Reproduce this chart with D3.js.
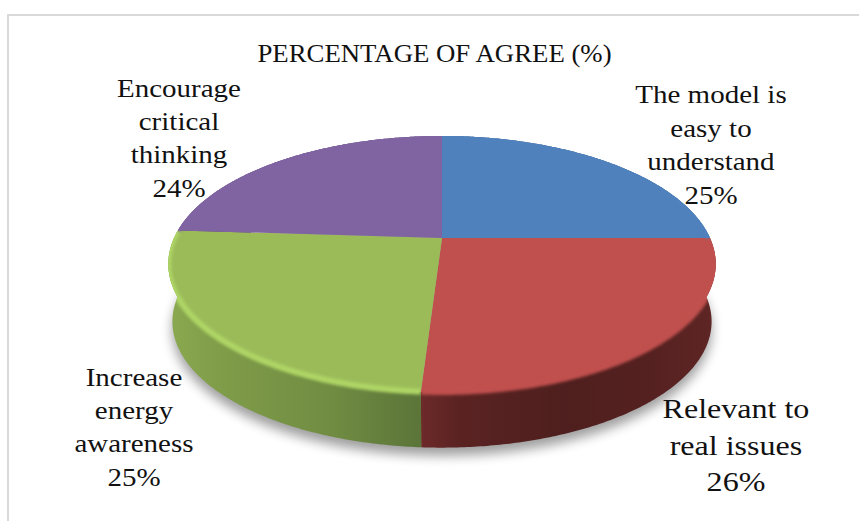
<!DOCTYPE html>
<html>
<head>
<meta charset="utf-8">
<script src="https://cdn.jsdelivr.net/npm/d3@7/dist/d3.min.js"></script>
<style>
html,body{margin:0;padding:0;background:#fff}
svg{display:block}
text{font-family:"Liberation Serif",serif;fill:#111}
</style>
</head>
<body>
<svg id="chart" width="859" height="521"></svg>
<script>
// Chart content
const chartTitle = "PERCENTAGE OF AGREE (%)";
const categories = ["The model is easy to understand", "Relevant to real issues", "Increase energy awareness", "Encourage critical thinking"];
const shares = [25, 26, 25, 24];
const labelLines = [
  ["The model is", "easy to", "understand", "25%"],
  ["Relevant to", "real issues", "26%"],
  ["Increase", "energy", "awareness", "25%"],
  ["Encourage", "critical", "thinking", "24%"]
];

// Slice styling
const faceColors = ["#4f81bd", "#c0504d", "#9bbb59", "#8064a2"];
const rimColors = ["#4f81bd", "#c0504d", "#aed565", "#8064a2"];
const wallStops = [
  [[0, "#2f4d71"], [1, "#2f4d71"]],
  [[0.452, "#6f2b2a"], [0.53, "#5a2322"], [0.72, "#4e1f1e"], [0.88, "#552120"], [1, "#5e2625"]],
  [[0, "#8aa94f"], [0.1, "#7f9c49"], [0.3, "#708c42"], [0.452, "#5c7639"]],
  [[0, "#5f4a78"], [1, "#5f4a78"]]
];

// Label placement: centre x, first baseline, line step, font size, horizontal stretch
const labelLayout = [
  {x: 711, y: 103, step: 33.6, size: 25.5, stretch: 1.137},
  {x: 736, y: 418, step: 36.5, size: 27.5, stretch: 1.165},
  {x: 134, y: 386, step: 33.2, size: 25.5, stretch: 1.137},
  {x: 179, y: 97, step: 33.2, size: 25.5, stretch: 1.137}
];

const svg = d3.select("#chart");
const defs = svg.append("defs");

// Perspective disc: pivot, radius, foreshortening and depth of the slab
const pivot = {x: 442, y: 238};
const radius = 268, flatRadius = 122.7, perspective = 0.203;
const slab = {drop: 58, shrink: 0.985};

const toRadius = d3.scaleLinear().domain([0, 1]).range([0, 1]);

function project(angle, r, lower) {
  const px = toRadius(r) * Math.sin(angle);
  const py = -toRadius(r) * Math.cos(angle);
  const f = 1 / (1 - perspective * py);
  const s = lower ? slab.shrink : 1;
  return [pivot.x + radius * px * f * s,
          pivot.y + (lower ? slab.drop : 0) + flatRadius * py * f * s];
}

const pie = d3.pie().sort(null).value(d => d);
const arcs = pie(shares);
const line = d3.line();

function arcPoints(a0, a1, lower) {
  const n = Math.max(2, Math.ceil((a1 - a0) / 0.01));
  return d3.range(n + 1).map(i => project(a0 + (a1 - a0) * i / n, 1, lower));
}
const facePath = d => line([[pivot.x, pivot.y], ...arcPoints(d.startAngle, d.endAngle, false)]) + "Z";
const wallPath = d => line([...arcPoints(d.startAngle, d.endAngle, false),
                            ...arcPoints(d.startAngle, d.endAngle, true).reverse()]) + "Z";
const rimPath = d => line(arcPoints(d.startAngle, d.endAngle, false));

// Filters for the soft rim and the ground shadow
defs.append("filter").attr("id", "rimBlur").attr("x", "-10%").attr("y", "-10%").attr("width", "120%").attr("height", "120%")
  .append("feGaussianBlur").attr("stdDeviation", 1.7);
defs.append("filter").attr("id", "shadowBlur").attr("x", "-10%").attr("y", "-20%").attr("width", "120%").attr("height", "140%")
  .append("feGaussianBlur").attr("stdDeviation", 6);

arcs.forEach((d, i) => {
  const g = defs.append("linearGradient").attr("id", "wall" + i)
    .attr("gradientUnits", "userSpaceOnUse").attr("x1", 168).attr("x2", 716).attr("y1", 0).attr("y2", 0);
  wallStops[i].forEach(s => g.append("stop").attr("offset", s[0]).attr("stop-color", s[1]));
  defs.append("clipPath").attr("id", "sliceClip" + i)
    .selectAll("path").data([facePath(d), wallPath(d)]).join("path").attr("d", p => p);
});

// Chart area frame
svg.append("path").attr("d", "M8,521V15H859").attr("fill", "none").attr("stroke", "#d9d9d9").attr("stroke-width", 2);

// Ground shadow under the slab
svg.append("path")
  .attr("d", line(arcPoints(0, 2 * Math.PI, true)) + "Z")
  .attr("transform", "translate(0,8)")
  .attr("fill", "#000").attr("opacity", 0.38)
  .attr("filter", "url(#shadowBlur)");

// Slab sides first, so every top face lies over them
svg.append("g").selectAll("path").data(arcs).join("path")
  .attr("d", wallPath).attr("fill", (d, i) => `url(#wall${i})`);
svg.append("g").selectAll("path").data(arcs).join("path")
  .attr("d", facePath).attr("fill", (d, i) => faceColors[i]);

// Soft rim, kept inside each slice so the seams stay sharp
svg.append("g").selectAll("g").data(arcs).join("g")
  .attr("clip-path", (d, i) => `url(#sliceClip${i})`)
  .append("path").attr("d", rimPath).attr("fill", "none")
  .attr("stroke", (d, i) => rimColors[i]).attr("stroke-width", 6)
  .attr("filter", "url(#rimBlur)");

// Title
const fitWidth = function (stretch) {
  return function () { return this.getComputedTextLength() * stretch; };
};
svg.append("text").attr("x", 434.5).attr("y", 62).attr("text-anchor", "middle")
  .attr("font-size", 26).text(chartTitle)
  .attr("lengthAdjust", "spacingAndGlyphs").attr("textLength", fitWidth(1.03));

// Slice labels, one text element per line
labelLines.forEach((lines, i) => {
  const l = labelLayout[i];
  svg.append("g").attr("aria-label", categories[i]).selectAll("text").data(lines).join("text")
    .attr("x", l.x).attr("y", (t, j) => l.y + j * l.step)
    .attr("text-anchor", "middle").attr("font-size", l.size).text(t => t)
    .attr("lengthAdjust", "spacingAndGlyphs")
    .attr("textLength", fitWidth(l.stretch));
});
</script>
</body>
</html>
